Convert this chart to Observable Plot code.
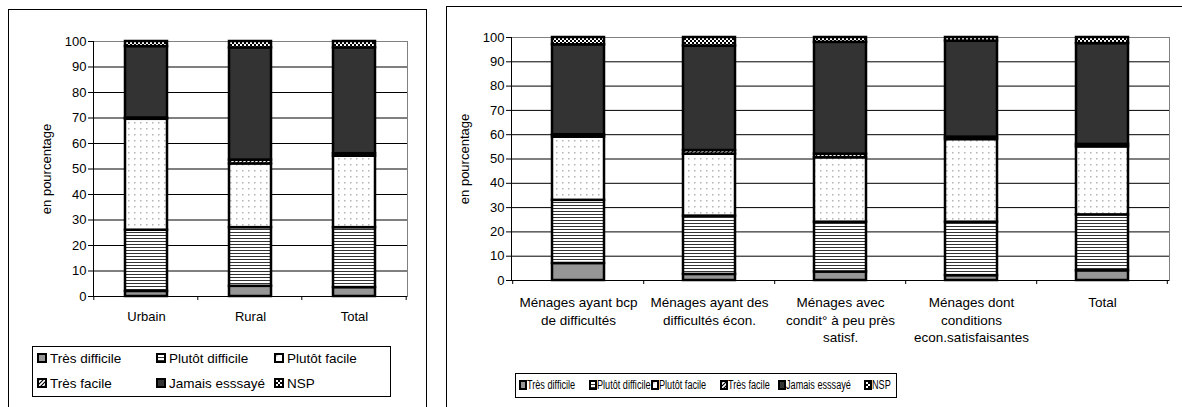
<!DOCTYPE html>
<html><head><meta charset="utf-8">
<script src="https://cdn.jsdelivr.net/npm/d3@7"></script>
<script src="https://cdn.jsdelivr.net/npm/@observablehq/plot@0.6"></script>
<style>
body{margin:0;width:1182px;height:407px;overflow:hidden;background:#fff;font-family:"Liberation Sans",Arial,sans-serif;position:relative}
.panel{position:absolute;border:1px solid #000;box-sizing:border-box}
.chart{position:absolute}
.legend{position:absolute;border:1px solid #000;box-sizing:border-box;background:#fff}
.item{position:absolute;display:flex;align-items:center;white-space:nowrap;color:#000;height:16px}
.item svg{margin-right:3px;flex:none}
.item span{display:inline-block}
</style></head><body>
<svg width="0" height="0" style="position:absolute">
<defs>
<pattern id="pTD" width="4" height="4" patternUnits="userSpaceOnUse"><rect width="4" height="4" fill="#969696"/></pattern>
<pattern id="pPD" width="4" height="3" patternUnits="userSpaceOnUse"><rect width="4" height="3" fill="#fff"/><rect y="1" width="4" height="1" fill="#333"/></pattern>
<pattern id="pPF" width="6" height="6" patternUnits="userSpaceOnUse"><rect width="6" height="6" fill="#fff"/><rect x="2" y="2" width="1.5" height="1.5" fill="#b4b4b4"/></pattern>
<pattern id="pTF" width="4" height="4" patternUnits="userSpaceOnUse"><rect width="4" height="4" fill="#fff"/><path d="M-1,1 l2,-2 M0,4 l4,-4 M3,5 l2,-2" stroke="#000" stroke-width="1.2"/></pattern>
<pattern id="pJE" width="4" height="4" patternUnits="userSpaceOnUse"><rect width="4" height="4" fill="#333"/></pattern>
<pattern id="pNS" width="4" height="4" patternUnits="userSpaceOnUse"><rect width="4" height="4" fill="#000"/><rect width="2" height="2" fill="#fff"/><rect x="2" y="2" width="2" height="2" fill="#fff"/></pattern>
</defs></svg>
<div class="panel" style="left:8px;top:9px;width:419px;height:430px"></div>
<div class="panel" style="left:446px;top:6px;width:760px;height:430px"></div>
<div id="left" class="chart" style="left:0;top:0"></div>
<div id="right" class="chart" style="left:440px;top:0"></div>
<div id="legL" class="legend" style="left:32px;top:346px;width:359px;height:51px"></div>
<div id="legR" class="legend" style="left:515px;top:373px;width:382px;height:25px"></div>
<script>
// ---- data ----
const series = ["Très difficile", "Plutôt difficile", "Plutôt facile", "Très facile", "Jamais esssayé", "NSP"];
const yTicks = [0, 10, 20, 30, 40, 50, 60, 70, 80, 90, 100];

const leftCats = ["Urbain", "Rural", "Total"];
const tresDifficileL   = [2, 4, 3.5];
const plutotDifficileL = [24, 23, 23.5];
const plutotFacileL    = [43.5, 25, 28];
const tresFacileL      = [0.5, 1.5, 1];
const jamaisL          = [28, 44, 41.5];
const nspL             = [2, 2.5, 2.5];

const rightCats = ["Ménages ayant bcp de difficultés", "Ménages ayant des difficultés écon.", "Ménages avec condit° à peu près satisf.", "Ménages dont conditions econ.satisfaisantes", "Total"];
const rightTickLabels = ["Ménages ayant bcp\nde difficultés", "Ménages ayant des\ndifficultés écon.", "Ménages avec\ncondit° à peu près\nsatisf.", "Ménages dont\nconditions\necon.satisfaisantes", "Total"];
const tresDifficileR   = [7, 2.5, 3.5, 2, 4];
const plutotDifficileR = [26, 24, 20.5, 22, 23];
const plutotFacileR    = [26, 25.5, 26.5, 34, 28];
const tresFacileR      = [1, 1.5, 1.5, 1, 1];
const jamaisR          = [37, 43, 46, 39.5, 41.5];
const nspR             = [3, 3.5, 2, 1.5, 2.5];

// ---- styles ----
const fills = ["url(#pTD)", "url(#pPD)", "url(#pPF)", "url(#pTF)", "url(#pJE)", "url(#pNS)"];

function build(cats, cols) {
  return cats.flatMap((c, i) => series.map((s, j) => ({cat: c, series: s, value: cols[j][i]})));
}

function chart(cats, cols, o) {
  const data = build(cats, cols);
  const plot = Plot.plot({
    width: o.width, height: o.height,
    marginLeft: o.ml, marginRight: o.mr, marginTop: o.mt, marginBottom: o.mb,
    style: {fontFamily: "Liberation Sans, Arial, sans-serif", fontSize: "13px", color: "#000", background: "transparent", maxWidth: "none", overflow: "visible"},
    x: {domain: cats, paddingInner: 0.6, paddingOuter: 0.3},
    y: {domain: [0, 100]},
    color: {type: "ordinal", domain: series, range: fills},
    marks: [
      Plot.frame({stroke: "#808080"}),
      Plot.ruleY(yTicks.filter(d => d > 0 && d < 100), {stroke: "#000", strokeWidth: 1}),
      Plot.barY(data, {x: "cat", y: "value", fill: "series", stroke: "#000", strokeWidth: 2.5}),
      Plot.frame({anchor: "left", stroke: "#000"}),
      Plot.ruleY([0], {stroke: "#000"}),
      Plot.axisY(yTicks, {tickSize: 5, tickPadding: 2, label: "en pourcentage", labelAnchor: "center", labelArrow: "none", labelOffset: o.labelOffset}),
      Plot.axisX({tickSize: 0, tickPadding: o.tp, label: null, lineHeight: 1.3, fontSize: o.xfs, tickFormat: o.fmt || (d => d)})
    ]
  });
  // category boundary ticks (Excel style)
  const sx = plot.scale("x"), sy = plot.scale("y");
  const step = sx.step, y0 = sy.apply(0);
  const g = d3.select(plot).append("g").attr("stroke", "#000");
  cats.forEach(c => {
    const xb = sx.apply(c) - 0.3 * step;
    g.append("line").attr("x1", xb).attr("x2", xb).attr("y1", y0).attr("y2", y0 + 4);
  });
  const xe = sx.apply(cats[cats.length - 1]) + sx.bandwidth + 0.3 * step;
  g.append("line").attr("x1", xe).attr("x2", xe).attr("y1", y0).attr("y2", y0 + 4);
  return plot;
}

document.getElementById("left").append(chart(leftCats,
  [tresDifficileL, plutotDifficileL, plutotFacileL, tresFacileL, jamaisL, nspL],
  {width: 426, height: 340, ml: 93, mr: 19, mt: 41, mb: 44, tp: 12, labelOffset: 52, xfs: 13}));

document.getElementById("right").append(chart(rightCats,
  [tresDifficileR, plutotDifficileR, plutotFacileR, tresFacileR, jamaisR, nspR],
  {width: 742, height: 360, ml: 71, mr: 13, mt: 37, mb: 80, tp: 14, labelOffset: 52, xfs: 13.5,
   fmt: d => rightTickLabels[rightCats.indexOf(d)]}));

// ---- legends ----
function swatch(i, w) {
  const ns = "http://www.w3.org/2000/svg";
  const s = document.createElementNS(ns, "svg");
  s.setAttribute("width", w + 2); s.setAttribute("height", 10);
  const r = document.createElementNS(ns, "rect");
  r.setAttribute("x", 1); r.setAttribute("y", 1); r.setAttribute("width", w); r.setAttribute("height", 8);
  r.setAttribute("fill", fills[i]); r.setAttribute("stroke", "#000"); r.setAttribute("stroke-width", 2);
  s.append(r);
  return s;
}
function label(text, fs, sx) {
  const sp = document.createElement("span");
  sp.textContent = text;
  sp.style.fontSize = fs + "px";
  if (sx) { sp.style.transform = `scaleX(${sx})`; sp.style.transformOrigin = "left center"; }
  return sp;
}
const legL = document.getElementById("legL");
const posL = [[4, 3], [123, 3], [241, 3], [4, 28], [123, 28], [241, 28]];
series.forEach((s, i) => {
  const d = document.createElement("div");
  d.className = "item";
  d.style.left = posL[i][0] + "px"; d.style.top = posL[i][1] + "px";
  d.append(swatch(i, 8), label(s, 13.5));
  legL.append(d);
});
const legR = document.getElementById("legR");
const posR = [3, 73, 135, 204, 262, 348];
series.forEach((s, i) => {
  const d = document.createElement("div");
  d.className = "item";
  d.style.left = posR[i] + "px"; d.style.top = "3px";
  const sw = swatch(i, 6); sw.style.marginRight = "0px";
  d.append(sw, label(s, 12, 0.76));
  legR.append(d);
});
</script>
</body></html>
